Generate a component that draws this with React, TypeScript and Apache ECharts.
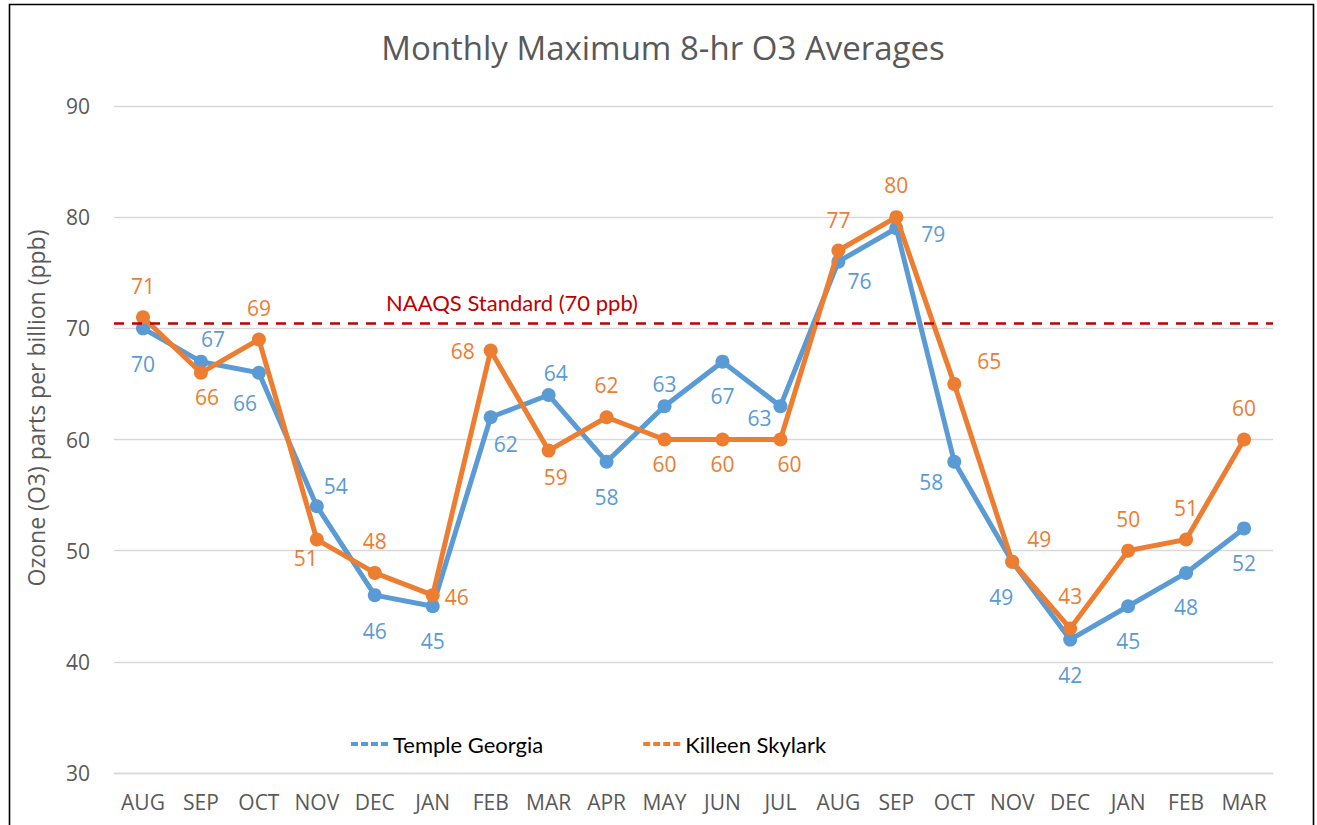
import React, { useEffect, useRef } from "react";
import * as echarts from "echarts";

const categories = ["AUG", "SEP", "OCT", "NOV", "DEC", "JAN", "FEB", "MAR", "APR", "MAY", "JUN", "JUL", "AUG", "SEP", "OCT", "NOV", "DEC", "JAN", "FEB", "MAR"];
const templeGeorgia = [70, 67, 66, 54, 46, 45, 62, 64, 58, 63, 67, 63, 76, 79, 58, 49, 42, 45, 48, 52];
const killeenSkylark = [71, 66, 69, 51, 48, 46, 68, 59, 62, 60, 60, 60, 77, 80, 65, 49, 43, 50, 51, 60];
const yTicks = { min: 30, max: 90, interval: 10 };
const naaqsLevel = 70.43;

// label placement (style only): offsets of label centres from each point
const blueLabelOffsets = [
  [0, 36], [12, -23], [-14, 30], [19, -20], [0, 36], [0, 35], [15, 27], [7, -22], [0, 35], [0, -22],
  [0, 34], [-21, 12], [21, 19], [37, 6], [-23, 20], [-11, 35], [0, 35], [0, 35], [0, 34], [0, 35],
];
const orangeLabelOffsets = [
  [0, -31], [6, 24], [0, -31], [-11, 18], [0, -32], [24, 2], [-28, 0], [7, 26], [0, -32], [0, 24],
  [0, 24], [9, 24], [0, -31], [0, -32], [35, -23], [27, -23], [0, -32], [0, -32], [0, -32], [0, -32],
];

const BLUE = "#5B9BD5";
const ORANGE = "#ED7D31";
const GREY_TEXT = "#595959";
const FONT = "'Open Sans', 'Noto Sans', sans-serif";
const LEGEND_FONT = "Lato, 'Open Sans', sans-serif";

const dashIcon = "path://M0,0h7v4h-7zM10,0h7v4h-7zM20,0h7v4h-7zM30,0h7v4h-7z";

function buildData(values: number[], offsets: number[][]) {
  return values.map((v, i) => ({ value: v, label: { offset: offsets[i] } }));
}

export default function App() {
  const ref = useRef<HTMLDivElement>(null);
  useEffect(() => {
    const chart = echarts.init(ref.current!, null, { renderer: "svg" });
    chart.setOption({
      animation: false,
      backgroundColor: "#ffffff",
      title: {
        text: "Monthly Maximum 8-hr O3 Averages",
        left: 658,
        textAlign: "center",
        top: 26,
        textStyle: { fontFamily: FONT, fontSize: 33, fontWeight: "normal", color: GREY_TEXT },
      },
      legend: {
        left: 346,
        top: 728,
        itemWidth: 37,
        itemHeight: 4,
        itemGap: 100,
        icon: dashIcon,
        textStyle: { fontFamily: LEGEND_FONT, fontSize: 22, color: "#000000" },
        data: ["Temple Georgia", "Killeen Skylark"],
      },
      grid: { left: 114, right: 44, top: 106, bottom: 52, containLabel: false },
      xAxis: {
        type: "category",
        data: categories,
        boundaryGap: true,
        axisLine: { show: true, lineStyle: { color: "#d9d9d9", width: 1.3 } },
        axisTick: { show: false },
        axisLabel: { color: GREY_TEXT, fontFamily: FONT, fontSize: 21, margin: 18, interval: 0 },
      },
      yAxis: {
        type: "value",
        min: yTicks.min,
        max: yTicks.max,
        interval: yTicks.interval,
        axisLine: { show: false },
        axisTick: { show: false },
        axisLabel: { color: GREY_TEXT, fontFamily: FONT, fontSize: 21, margin: 24 },
        splitLine: { lineStyle: { color: "#d9d9d9", width: 1.3 } },
      },
      graphic: [
        {
          type: "rect",
          shape: { x: 9.5, y: 4.5, width: 1304, height: 900 },
          style: { fill: "none", stroke: "#000000", lineWidth: 1.6 },
          silent: true,
        },
        {
          type: "text",
          x: 36,
          y: 408,
          rotation: Math.PI / 2,
          style: {
            text: "Ozone (O3) parts per billion (ppb)",
            fontFamily: FONT,
            fontSize: 23,
            fill: GREY_TEXT,
            align: "center",
            verticalAlign: "middle",
          },
        },
        {
          type: "text",
          x: 512,
          y: 302,
          style: {
            text: "NAAQS Standard (70 ppb)",
            fontFamily: LEGEND_FONT,
            fontSize: 22,
            fill: "#C00000",
            align: "center",
            verticalAlign: "middle",
          },
        },
      ],
      series: [
        {
          name: "Temple Georgia",
          type: "line",
          data: buildData(templeGeorgia, blueLabelOffsets),
          color: BLUE,
          lineStyle: { width: 5, color: BLUE },
          symbol: "circle",
          symbolSize: 14,
          itemStyle: { color: BLUE },
          label: { show: true, position: "inside", color: BLUE, fontFamily: FONT, fontSize: 21 },
          z: 2,
        },
        {
          name: "Killeen Skylark",
          type: "line",
          data: buildData(killeenSkylark, orangeLabelOffsets),
          color: ORANGE,
          lineStyle: { width: 5, color: ORANGE },
          symbol: "circle",
          symbolSize: 14,
          itemStyle: { color: ORANGE },
          label: { show: true, position: "inside", color: ORANGE, fontFamily: FONT, fontSize: 21 },
          z: 3,
          markLine: {
            silent: true,
            symbol: "none",
            label: { show: false },
            lineStyle: { color: "#C00000", width: 2.5, type: [10, 8] },
            data: [{ yAxis: naaqsLevel }],
          },
        },
      ],
    });
    return () => chart.dispose();
  }, []);
  return (
    <div
      ref={ref}
      style={{ position: "fixed", left: 0, top: 0, width: 1317, height: 825, background: "#ffffff" }}
    />
  );
}
